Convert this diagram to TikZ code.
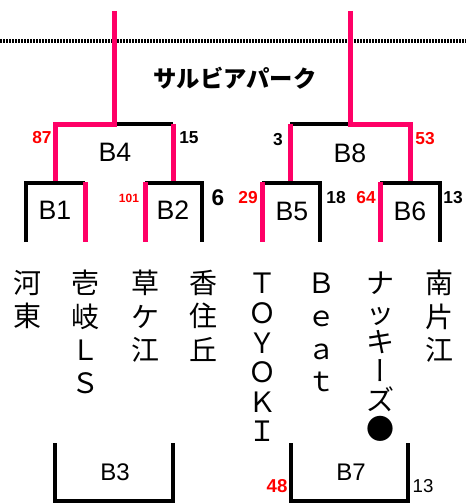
\documentclass[tikz,border=0pt]{standalone}
\usepackage{fontspec}
\setmainfont{Liberation Sans}
\newfontfamily\cjk{Noto Sans CJK JP}
\newfontfamily\cjkv[RawFeature=+vert]{Noto Sans CJK JP}
\definecolor{hotpink}{RGB}{255,0,102}
\definecolor{scorered}{RGB}{255,0,0}

\begin{document}
\begin{tikzpicture}[x=0.75pt,y=0.75pt,yscale=-1,xscale=1,
  pinkline/.style={draw=hotpink,line width=3.75pt},
  blackline/.style={draw=black,line width=2.4pt},
  score/.style={font=\bfseries\fontsize{13}{15}\selectfont,inner sep=0pt},
  blabel/.style={font=\fontsize{20}{22}\selectfont,inner sep=0pt},
  team/.style={font=\cjk\fontsize{21}{25}\selectfont,align=center,anchor=north,inner sep=0pt}]
\useasboundingbox (0,0) rectangle (467,503);

%Dotted line
\draw [line width=2.4pt,dash pattern=on 1.2pt off 1.05pt] (0,41) -- (466,41) ;

%Left half: B4 bracket
\draw [blackline] (114,124) -- (173,124) ;
\draw [pinkline] (114,11) -- (114,124) -- (55,124) -- (55,183) ;
\draw [pinkline] (173,124) -- (173,183) ;
%B1
\draw [blackline] (26,242) -- (26,183) -- (85,183) ;
\draw [pinkline] (85,182) -- (85,242) ;
%B2
\draw [blackline] (145,183) -- (202,183) -- (202,242) ;
\draw [pinkline] (145,182) -- (145,242) ;

%Right half: B8 bracket
\draw [blackline] (290,124) -- (350,124) ;
\draw [pinkline] (350,11) -- (350,124) -- (410,124) -- (410,183) ;
\draw [pinkline] (290,124) -- (290,183) ;
%B5
\draw [blackline] (262,183) -- (320,183) -- (320,242) ;
\draw [pinkline] (262,182) -- (262,242) ;
%B6
\draw [blackline] (380,183) -- (440,183) -- (440,242) ;
\draw [pinkline] (380,182) -- (380,242) ;

%B3 and B7
\draw [blackline] (55,443) -- (55,501) -- (173,501) -- (173,443) ;
\draw [blackline] (291,443) -- (291,501) -- (408,501) -- (408,443) ;

% Text Node
\node (title) [font=\cjk\bfseries\fontsize{17.5}{20}\selectfont,inner sep=0pt] at (235,78) {サルビアパーク};

% Text Node
\node (b4) [blabel] at (115,152) {B4};
\node (b8) [blabel] at (350,153) {B8};
\node (b1) [blabel] at (55,210) {B1};
\node (b2) [blabel] at (173,210) {B2};
\node (b5) [blabel] at (292,211) {B5};
\node (b6) [blabel] at (410,211) {B6};
\node (b3) [blabel,font=\fontsize{18}{20}\selectfont] at (115,472) {B3};
\node (b7) [blabel,font=\fontsize{18}{20}\selectfont] at (351,472) {B7};

% Text Node
\node (s87) [score,text=scorered] at (42,138) {87};
\node (s15) [score] at (189,138) {15};
\node (s3) [score] at (278,140) {3};
\node (s53) [score,text=scorered] at (425,139) {53};
\node (s101) [score,text=scorered,font=\bfseries\fontsize{9}{10}\selectfont] at (129,198) {101};
\node (s6) [score,font=\bfseries\fontsize{17}{19}\selectfont] at (218,198) {6};
\node (s29) [score,text=scorered] at (248,198) {29};
\node (s18) [score] at (336,198) {18};
\node (s64) [score,text=scorered] at (366,198) {64};
\node (s13a) [score] at (453,198) {13};
\node (s48) [score,text=scorered,font=\bfseries\fontsize{14}{16}\selectfont] at (277,486.5) {48};
\node (s13b) [score,font=\fontsize{14}{16}\selectfont] at (423,486.5) {13};

% Text Node
\node (kawahigashi) [team] at (27,270) {河\\東};
\node (iki) [team] at (85,270) {壱\\岐\\Ｌ\\Ｓ};
\node (kusagae) [team] at (145,270) {草\\ケ\\江};
\node (kasumi) [team] at (203,270) {香\\住\\丘};
\node (toyoki) [team,font=\cjk\fontsize{21}{22.2}\selectfont] at (262,273) {Ｔ\\Ｏ\\Ｙ\\Ｏ\\Ｋ\\Ｉ};
\node (beat) [team,font=\cjk\fontsize{21}{24.5}\selectfont] at (321,273) {Ｂ\\ｅ\\ａ\\ｔ};
\node (nattsu) [team,font=\cjk\fontsize{21}{21.8}\selectfont] at (380,272) {ナ\\ッ\\キ\\{\cjkv ー}\\ズ\\●};
\node (minami) [team] at (439,270) {南\\片\\江};

\end{tikzpicture}
\end{document}
